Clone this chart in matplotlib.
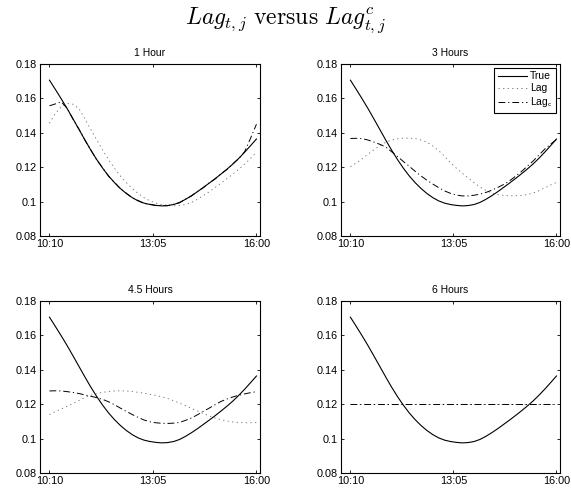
import matplotlib
matplotlib.use("Agg")
import matplotlib.pyplot as plt

plt.rcParams["font.family"] = ["Liberation Sans", "DejaVu Sans"]
plt.rcParams["mathtext.fontset"] = "cm"

# time of day in minutes after midnight, 10-minute steps from 10:10 to 16:00
minutes = [610 + 10 * k for k in range(36)]
tick_minutes = [610, 785, 960]
tick_labels = ["10:10", "13:05", "16:00"]
ytick_values = [0.08, 0.10, 0.12, 0.14, 0.16, 0.18]
ytick_labels = ["0.08", "0.1", "0.12", "0.14", "0.16", "0.18"]

panel_titles = ["1 Hour", "3 Hours", "4.5 Hours", "6 Hours"]

true_vol = [0.1706, 0.1652, 0.1597, 0.1540, 0.1480, 0.1419, 0.1358, 0.1299, 0.1244, 0.1194,
            0.1149, 0.1110, 0.1076, 0.1047, 0.1023, 0.1004, 0.0991, 0.0983, 0.0978, 0.0975,
            0.0977, 0.0983, 0.0995, 0.1013, 0.1034, 0.1057, 0.1082, 0.1107, 0.1133, 0.1160,
            0.1188, 0.1218, 0.1251, 0.1287, 0.1325, 0.1364]

lag_1h = [0.1456, 0.1512, 0.1553, 0.1570, 0.1566, 0.1540, 0.1480, 0.1419, 0.1358, 0.1299,
          0.1244, 0.1194, 0.1149, 0.1110, 0.1076, 0.1047, 0.1023, 0.1004, 0.0991, 0.0983,
          0.0978, 0.0975, 0.0977, 0.0983, 0.0995, 0.1013, 0.1034, 0.1057, 0.1082, 0.1107,
          0.1133, 0.1160, 0.1188, 0.1218, 0.1251, 0.1287]
lagc_1h = [0.1557, 0.1568, 0.1580, 0.1542, 0.1478, 0.1421, 0.1357, 0.1300, 0.1242, 0.1196,
           0.1147, 0.1112, 0.1074, 0.1049, 0.1021, 0.1006, 0.0989, 0.0985, 0.0977, 0.0977,
           0.0976, 0.0985, 0.0993, 0.1015, 0.1032, 0.1059, 0.1080, 0.1109, 0.1131, 0.1162,
           0.1186, 0.1220, 0.1249, 0.1290, 0.1368, 0.1450]

lag_3h = [0.1203, 0.1225, 0.1249, 0.1276, 0.1302, 0.1325, 0.1345, 0.1358, 0.1365, 0.1369,
          0.1369, 0.1366, 0.1358, 0.1346, 0.1323, 0.1296, 0.1263, 0.1227, 0.1194, 0.1165,
          0.1137, 0.1110, 0.1085, 0.1065, 0.1050, 0.1041, 0.1036, 0.1034, 0.1034, 0.1036,
          0.1041, 0.1049, 0.1063, 0.1080, 0.1096, 0.1112]
lagc_3h = [0.1367, 0.1368, 0.1366, 0.1358, 0.1346, 0.1333, 0.1317, 0.1290, 0.1262, 0.1233,
           0.1205, 0.1176, 0.1149, 0.1124, 0.1102, 0.1081, 0.1062, 0.1048, 0.1038, 0.1033,
           0.1033, 0.1037, 0.1043, 0.1053, 0.1066, 0.1082, 0.1099, 0.1120, 0.1146, 0.1173,
           0.1204, 0.1235, 0.1270, 0.1305, 0.1334, 0.1361]

lag_45h = [0.1140, 0.1157, 0.1173, 0.1188, 0.1204, 0.1222, 0.1239, 0.1252, 0.1262, 0.1269,
           0.1274, 0.1277, 0.1278, 0.1277, 0.1274, 0.1269, 0.1264, 0.1258, 0.1251, 0.1243,
           0.1233, 0.1220, 0.1206, 0.1192, 0.1176, 0.1161, 0.1146, 0.1132, 0.1120, 0.1110,
           0.1103, 0.1097, 0.1094, 0.1092, 0.1092, 0.1094]
lagc_45h = [0.1277, 0.1278, 0.1277, 0.1273, 0.1268, 0.1262, 0.1254, 0.1246, 0.1238, 0.1228,
            0.1214, 0.1197, 0.1177, 0.1158, 0.1140, 0.1123, 0.1108, 0.1098, 0.1092, 0.1089,
            0.1088, 0.1090, 0.1094, 0.1106, 0.1120, 0.1138, 0.1158, 0.1177, 0.1197, 0.1216,
            0.1230, 0.1242, 0.1252, 0.1260, 0.1267, 0.1273]

lag_6h = [0.12] * 36
lagc_6h = [0.12] * 36

lag_series = [lag_1h, lag_3h, lag_45h, lag_6h]
lagc_series = [lagc_1h, lagc_3h, lagc_45h, lagc_6h]

W, H = 571, 490
fig = plt.figure(figsize=(W / 100, H / 100), dpi=100)

# axes boxes in pixels: left, top, width, height
boxes = [(40, 64, 220, 172), (341, 64, 219, 172),
         (40, 301, 220, 172), (341, 301, 219, 172)]

DOT = (0, (1.5, 4.0))
DASHDOT = (0, (7.0, 3.0, 1.2, 3.0))

for i, (l, t, w, h) in enumerate(boxes):
    ax = fig.add_axes([l / W, 1 - (t + h) / H, w / W, h / H])
    ax.plot(minutes, true_vol, color="black", lw=0.8, ls="-", label="True")
    ax.plot(minutes, lag_series[i], color="0.4", lw=0.6, ls=DOT, label="Lag")
    ax.plot(minutes, lagc_series[i], color="black", lw=0.7, ls=DASHDOT,
            label=r"Lag$_{\mathsf{c}}$")
    ax.set_xlim(594, 966)
    ax.set_ylim(0.08, 0.18)
    ax.set_xticks(tick_minutes)
    ax.set_xticklabels(tick_labels)
    ax.set_yticks(ytick_values)
    ax.set_yticklabels(ytick_labels)
    ax.tick_params(direction="in", length=2.5, width=0.6, labelsize=7.8,
                   top=True, right=True, pad=2)
    for sp in ax.spines.values():
        sp.set_linewidth(0.8)
    ax.set_title(panel_titles[i], fontsize=7.5, pad=6)
    if i == 1:
        leg = ax.legend(loc="upper right", fontsize=7.5, frameon=True, fancybox=False,
                        edgecolor="black", framealpha=1, handlelength=2.8,
                        handletextpad=0.3, labelspacing=0.2, borderpad=0.35,
                        borderaxespad=0.35)
        leg.get_frame().set_linewidth(0.8)

fig.text(0.5, 1 - 24 / H, r"$Lag_{t,j}\ \mathrm{versus}\ Lag^{c}_{t,j}$",
         ha="center", va="baseline", fontsize=17)

fig.savefig("out.png", dpi=100)
